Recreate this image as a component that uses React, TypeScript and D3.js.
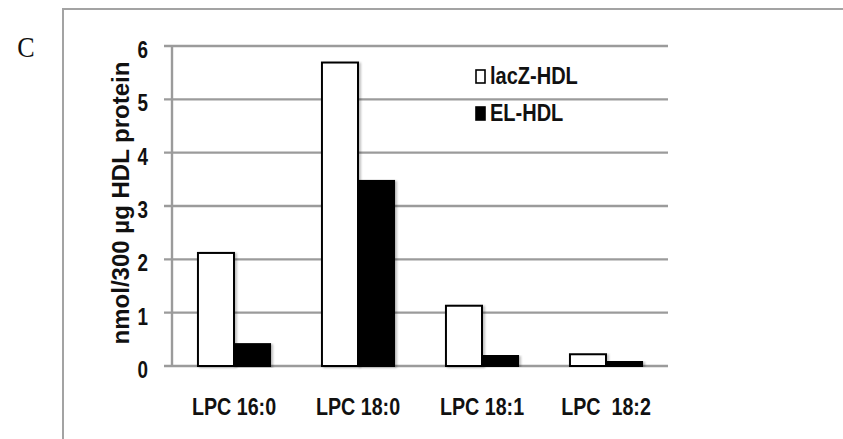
import React from "react";
import * as d3 from "d3";

// LPC species and measured amounts (nmol / 300 µg HDL protein)
const categories = ["LPC 16:0", "LPC 18:0", "LPC 18:1", "LPC  18:2"];
const seriesNames = ["lacZ-HDL", "EL-HDL"];
const lacZValues = [2.12, 5.69, 1.13, 0.22];
const elValues = [0.41, 3.47, 0.19, 0.08];
const yTicks = [0, 1, 2, 3, 4, 5, 6];
const panelLetter = "C";
const yTitle = "nmol/300 µg HDL protein";

const WIDTH = 843;
const HEIGHT = 439;
const plot = { left: 172, right: 668, top: 46, bottom: 366 };
const gridColor = "#9b9b9b";
const sansFont = "'Liberation Sans', Arial, sans-serif";
// horizontal condensing applied to the upright labels
const narrow = 0.82;

export default function App() {
  const x0 = d3
    .scaleBand<string>()
    .domain(categories)
    .range([plot.left, plot.right])
    .padding(0);
  const x1 = d3
    .scaleBand<string>()
    .domain(seriesNames)
    .range([0, x0.bandwidth()])
    .paddingInner(0)
    .paddingOuter(0.72);
  const y = d3.scaleLinear().domain([0, 6]).range([plot.bottom, plot.top]);

  const seriesValues: Record<string, number[]> = {
    "lacZ-HDL": lacZValues,
    "EL-HDL": elValues,
  };
  const seriesFill: Record<string, string> = {
    "lacZ-HDL": "#ffffff",
    "EL-HDL": "#000000",
  };

  return (
    <>
      <style>{`body{margin:0}`}</style>
      <svg width={WIDTH} height={HEIGHT} style={{ display: "block", background: "#fff" }}>
        <defs>
          <filter id="barShadow" x="-20%" y="-5%" width="140%" height="110%">
            <feGaussianBlur in="SourceAlpha" stdDeviation="1.2" />
            <feOffset dx="1.5" dy="0.5" result="blur" />
            <feComponentTransfer>
              <feFuncA type="linear" slope="0.25" />
            </feComponentTransfer>
            <feMerge>
              <feMergeNode />
              <feMergeNode in="SourceGraphic" />
            </feMerge>
          </filter>
        </defs>

        {/* panel frame */}
        <line x1={63} x2={63} y1={9} y2={HEIGHT} stroke="#a3a3a3" strokeWidth={2} />
        <line x1={62} x2={WIDTH} y1={9} y2={9} stroke="#a3a3a3" strokeWidth={2} />

        <text
          x={26}
          y={57}
          textAnchor="middle"
          fontFamily="'Liberation Serif', 'DejaVu Serif', serif"
          fontSize={29}
          fill="#111"
          transform="translate(26,0) scale(0.9,1) translate(-26,0)"
        >
          {panelLetter}
        </text>

        {/* gridlines with tick stubs */}
        {yTicks.map((t) => (
          <line
            key={`g${t}`}
            x1={plot.left - 8}
            x2={plot.right}
            y1={y(t)}
            y2={y(t)}
            stroke={gridColor}
            strokeWidth={2.4}
          />
        ))}
        <line
          x1={plot.left}
          x2={plot.left}
          y1={plot.top}
          y2={plot.bottom}
          stroke={gridColor}
          strokeWidth={2.4}
        />

        {/* y tick labels */}
        {yTicks.map((t) => (
          <text
            key={`t${t}`}
            transform={`translate(148, ${y(t) + 12}) scale(${narrow},1)`}
            textAnchor="end"
            fontFamily={sansFont}
            fontWeight="bold"
            fontSize={23}
            fill="#111"
          >
            {t}
          </text>
        ))}

        {/* y axis title */}
        <text
          transform={`translate(129, 203) rotate(-90)`}
          textAnchor="middle"
          fontFamily={sansFont}
          fontWeight="bold"
          fontSize={24}
          fill="#111"
        >
          {yTitle}
        </text>

        {/* bars */}
        {categories.map((cat, i) => (
          <g key={cat} transform={`translate(${x0(cat)},0)`}>
            {seriesNames.map((s) => {
              const v = seriesValues[s][i];
              return (
                <rect
                  key={s}
                  x={x1(s)}
                  y={y(v)}
                  width={x1.bandwidth()}
                  height={y(0) - y(v)}
                  fill={seriesFill[s]}
                  stroke="#000"
                  strokeWidth={2}
                  filter="url(#barShadow)"
                />
              );
            })}
          </g>
        ))}

        {/* category labels */}
        {categories.map((cat) => (
          <text
            key={`c${cat}`}
            transform={`translate(${(x0(cat) ?? 0) + x0.bandwidth() / 2}, 415) scale(${narrow},1)`}
            textAnchor="middle"
            fontFamily={sansFont}
            fontWeight="bold"
            fontSize={24}
            fill="#111"
            style={{ whiteSpace: "pre" }}
          >
            {cat}
          </text>
        ))}

        {/* legend */}
        {seriesNames.map((s, i) => (
          <g key={`l${s}`} transform={`translate(476, ${70 + i * 37})`}>
            <rect
              x={0}
              y={0}
              width={9}
              height={13}
              fill={seriesFill[s]}
              stroke="#000"
              strokeWidth={1.6}
            />
            <text
              transform={`translate(14, 14) scale(0.87,1)`}
              fontFamily={sansFont}
              fontWeight="bold"
              fontSize={23}
              fill="#111"
            >
              {s}
            </text>
          </g>
        ))}
      </svg>
    </>
  );
}
